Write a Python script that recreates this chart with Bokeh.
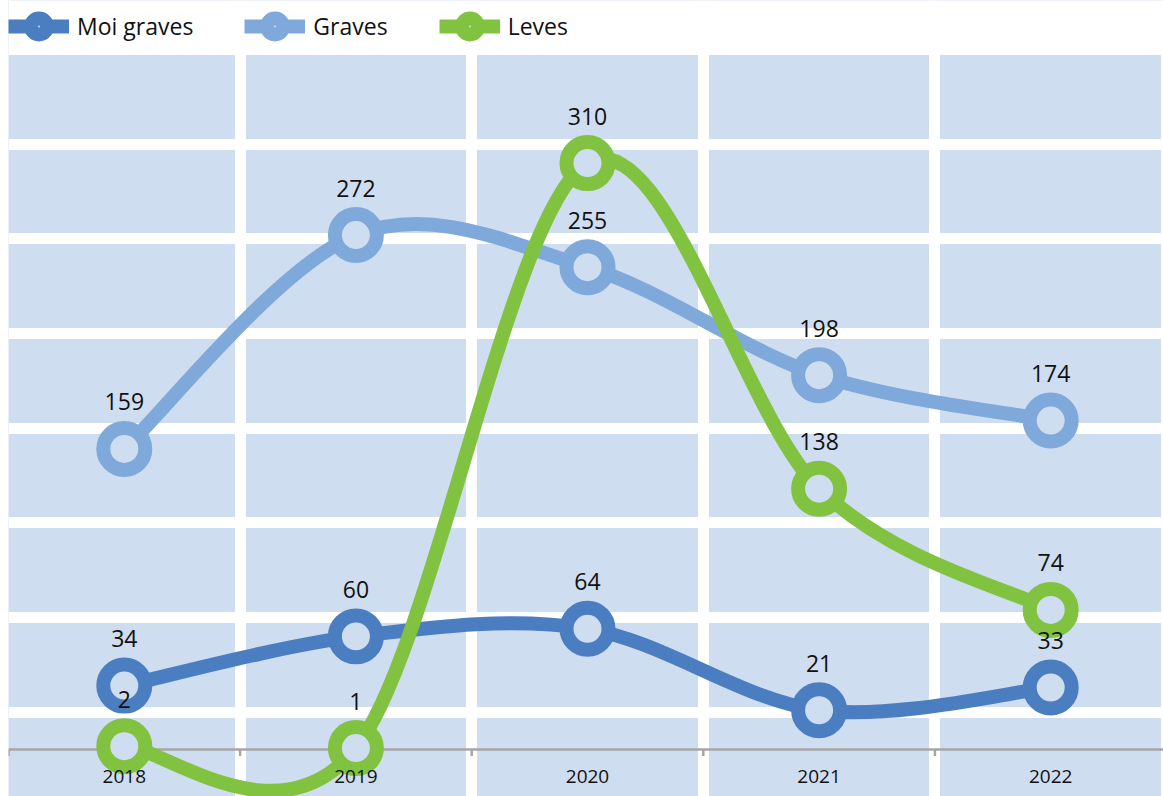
import math
from bokeh.plotting import figure
from bokeh.models import (Range1d, FixedTicker, Legend, LegendItem,
                          ColumnDataSource, BoxAnnotation)
from bokeh.core.properties import value
from bokeh.embed import file_html
from bokeh.resources import INLINE

# ---- data ----
years = ["2018", "2019", "2020", "2021", "2022"]
moi_graves = [34, 60, 64, 21, 33]
graves = [159, 272, 255, 198, 174]
leves = [2, 1, 310, 138, 74]

series_names = ["Moi graves", "Graves", "Leves"]
series_values = [moi_graves, graves, leves]
series_colors = ["#4A7EC1", "#7EA9DA", "#81C341"]

# ---- layout constants ----
W, H = 1163, 796
LEFT = 8
TOP_GAP = 49          # pixels between canvas top and the top of the plot area
CAT_PX = 231.6
Y_PX = 1.8932
Y_MAX = 370
BG = "#CFDDF0"
FONT = "Open Sans"

xs = list(range(len(years)))
x_start = -0.5
x_end = x_start + (W - LEFT) / CAT_PX
y_end = Y_MAX + TOP_GAP / Y_PX
y_start = Y_MAX - (H - TOP_GAP) / Y_PX

p = figure(width=W, height=H, output_backend="svg", toolbar_location=None,
           x_range=Range1d(x_start, x_end), y_range=Range1d(y_start, y_end),
           x_axis_location=None, y_axis_location=None,
           min_border_left=LEFT, min_border_right=0, min_border_bottom=0,
           min_border_top=0)
p.background_fill_color = BG
p.border_fill_color = "white"
p.outline_line_color = None

boundaries = [i - 0.5 for i in range(len(years) + 1)]
grid_vals = list(range(-30, Y_MAX + 1, 50))
p.xgrid.ticker = FixedTicker(ticks=boundaries)
p.ygrid.ticker = FixedTicker(ticks=grid_vals)
for g in list(p.xgrid) + list(p.ygrid):
    g.grid_line_color = "white"
    g.grid_line_width = 11
    g.grid_line_alpha = 1.0

# white strip above the plot area (legend zone)
p.add_layout(BoxAnnotation(bottom=Y_MAX, fill_color="white", fill_alpha=1.0,
                           line_color=None, level="underlay"))

# axis line at zero with small ticks
p.hspan(y=[0], line_color="#A6A6A6", line_width=2.5)
p.ray(x=boundaries, y=[0] * len(boundaries), length=6, length_units="screen",
      angle=-math.pi / 2, line_color="#A6A6A6", line_width=2.5)


def smooth(xv, yv):
    n = len(xv)
    d = dict(x0=[], y0=[], x1=[], y1=[], cx0=[], cy0=[], cx1=[], cy1=[])
    for i in range(n - 1):
        a = i - 1 if i > 0 else i
        b = i + 2 if i + 2 < n else i + 1
        d["x0"].append(xv[i]); d["y0"].append(yv[i])
        d["x1"].append(xv[i + 1]); d["y1"].append(yv[i + 1])
        d["cx0"].append(xv[i] + (xv[i + 1] - xv[a]) / 6)
        d["cy0"].append(yv[i] + (yv[i + 1] - yv[a]) / 6)
        d["cx1"].append(xv[i + 1] - (xv[b] - xv[i]) / 6)
        d["cy1"].append(yv[i + 1] - (yv[b] - yv[i]) / 6)
    return d


items = []
for name, vals, col in zip(series_names, series_values, series_colors):
    src = ColumnDataSource(smooth(xs, vals))
    lr = p.bezier(x0="x0", y0="y0", x1="x1", y1="y1", cx0="cx0", cy0="cy0",
                  cx1="cx1", cy1="cy1", source=src, line_color=col, line_width=14)
    mr = p.scatter(x=xs, y=vals, size=42, marker="circle", line_color=col,
                   line_width=14, fill_color=BG)
    items.append(LegendItem(label=name, renderers=[lr, mr]))

for vals in series_values:
    p.text(x=xs, y=vals, text=[str(v) for v in vals], text_align="center",
           text_baseline="alphabetic", y_offset=-47,
           text_font=value(FONT), text_font_size="23px", text_color="#111111")

p.text(x=xs, y=[0] * len(xs), text=years, text_align="center",
       text_baseline="alphabetic", y_offset=27,
       text_font=value(FONT), text_font_size="19px", text_color="#111111")

legend = Legend(items=items, orientation="horizontal",
                location=(0, H - 25.5 - 20),
                padding=0, margin=0, border_line_color=None,
                background_fill_alpha=0, glyph_width=61, glyph_height=40,
                label_standoff=8, spacing=51, label_text_font=FONT,
                label_text_font_size="23px", label_text_color="#111111")
p.add_layout(legend, "center")

open("out.html", "w").write(file_html(p, INLINE))
